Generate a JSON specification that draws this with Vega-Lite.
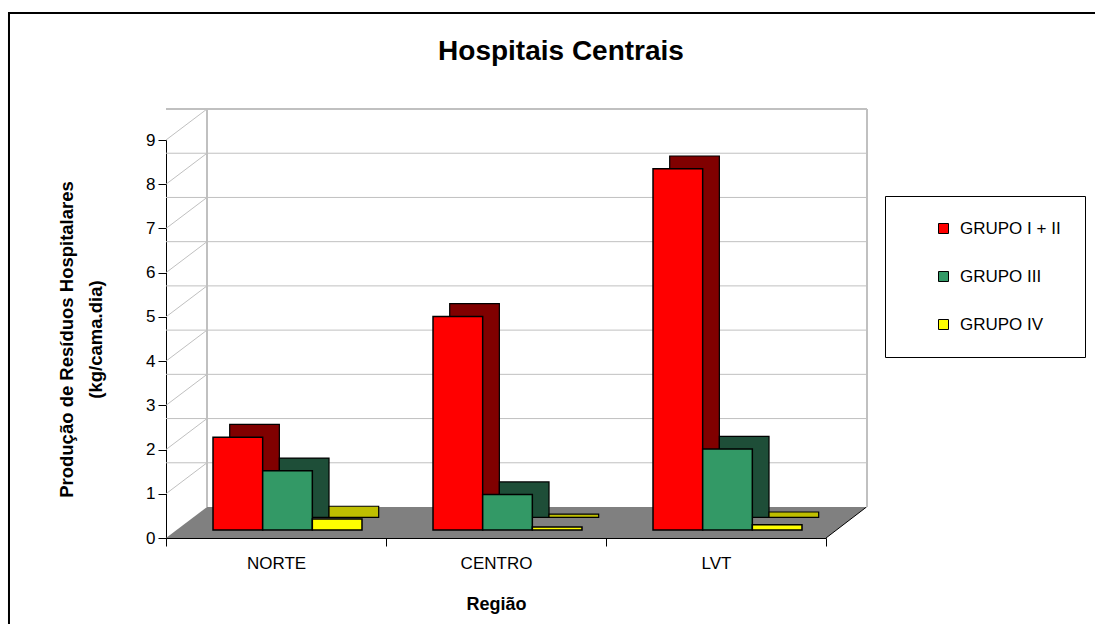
{
  "$schema": "https://vega.github.io/schema/vega-lite/v6.json",
  "width": 660,
  "height": 398,
  "autosize": {"type": "none"},
  "padding": {"left": 166, "top": 140, "right": 269, "bottom": 86},
  "background": "white",
  "config": {"font": "Liberation Sans", "view": {"stroke": null}},
  "title": {"text": "Hospitais Centrais", "fontSize": 28, "fontWeight": "bold", "color": "black", "anchor": "middle", "frame": "group", "dx": 65, "offset": -57},
  "datasets": {
    "residuos": [
      {"regiao": "NORTE", "grupo": "GRUPO I + II", "valor": 2.10},
      {"regiao": "NORTE", "grupo": "GRUPO III", "valor": 1.34},
      {"regiao": "NORTE", "grupo": "GRUPO IV", "valor": 0.25},
      {"regiao": "CENTRO", "grupo": "GRUPO I + II", "valor": 4.83},
      {"regiao": "CENTRO", "grupo": "GRUPO III", "valor": 0.80},
      {"regiao": "CENTRO", "grupo": "GRUPO IV", "valor": 0.07},
      {"regiao": "LVT", "grupo": "GRUPO I + II", "valor": 8.17},
      {"regiao": "LVT", "grupo": "GRUPO III", "valor": 1.83},
      {"regiao": "LVT", "grupo": "GRUPO IV", "valor": 0.12}
    ],
    "grade": [{"v": 1}, {"v": 2}, {"v": 3}, {"v": 4}, {"v": 5}, {"v": 6}, {"v": 7}, {"v": 8}, {"v": 9}]
  },
  "data": {"name": "residuos"},
  "resolve": {"scale": {"xOffset": "independent", "color": "independent"}},
  "layer": [
    {
      "data": {"values": [{}]},
      "mark": {"type": "point", "shape": "M-1.4758,1.6L-1.4758,-0.3848L1.84,-0.3848L1.84,1.6", "filled": false, "stroke": "black", "strokeWidth": 2, "opacity": 1, "size": 435600},
      "encoding": {
        "x": {"datum": "CENTRO", "type": "nominal"},
        "y": {"datum": 9, "type": "quantitative"}
      }
    },
    {
      "data": {"values": [{}]},
      "mark": {"type": "point", "shape": "M-1,0L1,0L1.1227,-0.0939L-0.8758,-0.0939Z", "filled": true, "fill": "#808080", "opacity": 1, "size": 435600, "strokeWidth": 0},
      "encoding": {
        "x": {"datum": "CENTRO", "type": "nominal"},
        "y": {"datum": 0, "type": "quantitative"}
      }
    },
    {
      "data": {"values": [{}]},
      "mark": {"type": "point", "shape": "M1,0L1.1227,-0.0939", "filled": false, "stroke": "black", "strokeWidth": 1, "opacity": 1, "size": 435600},
      "encoding": {
        "x": {"datum": "CENTRO", "type": "nominal"},
        "y": {"datum": 0, "type": "quantitative"}
      }
    },
    {
      "data": {"name": "grade"},
      "mark": {"type": "rule", "color": "#C0C0C0", "xOffset": 41, "x2Offset": 41, "yOffset": -31},
      "encoding": {
        "y": {"field": "v", "type": "quantitative"},
        "strokeWidth": {"condition": {"test": "datum.v == 9", "value": 2}, "value": 1}
      }
    },
    {
      "data": {"name": "grade"},
      "mark": {"type": "rule", "color": "#C0C0C0", "strokeWidth": 1, "x2Offset": 41, "y2Offset": -31},
      "encoding": {
        "x": {"datum": "NORTE", "type": "nominal", "bandPosition": 0},
        "x2": {"datum": "NORTE", "bandPosition": 0},
        "y": {"field": "v", "type": "quantitative"},
        "y2": {"field": "v"}
      }
    },
    {
      "data": {"values": [{}]},
      "mark": {"type": "rule", "color": "#C0C0C0", "strokeWidth": 2, "xOffset": 41, "yOffset": -31, "y2Offset": -31},
      "encoding": {
        "x": {"datum": "NORTE", "type": "nominal", "bandPosition": 0},
        "y": {"datum": 0, "type": "quantitative"},
        "y2": {"datum": 9}
      }
    },
    {
      "data": {"values": [{}]},
      "mark": {"type": "rule", "color": "#C0C0C0", "strokeWidth": 2, "xOffset": 41, "yOffset": -31, "y2Offset": -31},
      "encoding": {
        "x": {"datum": "LVT", "type": "nominal", "bandPosition": 1},
        "y": {"datum": 0, "type": "quantitative"},
        "y2": {"datum": 9}
      }
    },
    {
      "mark": {"type": "bar", "stroke": "black", "strokeWidth": 1.2, "yOffset": -20.7, "y2Offset": -20.7},
      "encoding": {
        "x": {"field": "regiao", "type": "nominal"},
        "xOffset": {"field": "grupo", "type": "nominal", "scale": {"domain": ["GRUPO I + II", "GRUPO III", "GRUPO IV"], "paddingInner": 0, "paddingOuter": 0.715, "align": 0.897}},
        "y": {"field": "valor", "type": "quantitative", "stack": null},
        "y2": {"datum": 0},
        "color": {"field": "grupo", "type": "nominal", "scale": {"domain": ["GRUPO I + II", "GRUPO III", "GRUPO IV"], "range": ["#800000", "#1E4E38", "#BFBF00"]}, "legend": null}
      }
    },
    {
      "mark": {"type": "bar", "stroke": "black", "strokeWidth": 1.5, "yOffset": -8, "y2Offset": -8},
      "encoding": {
        "x": {
          "field": "regiao", "type": "nominal",
          "scale": {"domain": ["NORTE", "CENTRO", "LVT"], "paddingInner": 0, "paddingOuter": 0},
          "title": "Região",
          "axis": {"labelAngle": 0, "labelAlign": "center", "bandPosition": 0.5, "labelFontSize": 17, "labelColor": "black", "labelPadding": 17, "tickBand": "extent", "tickSize": 8, "tickColor": "black", "domainColor": "black", "titleFontSize": 18, "titleFontWeight": "bold", "titleColor": "black", "titlePadding": 24, "grid": false}
        },
        "xOffset": {"field": "grupo", "type": "nominal", "scale": {"domain": ["GRUPO I + II", "GRUPO III", "GRUPO IV"], "paddingInner": 0, "paddingOuter": 0.715, "align": 0.662}},
        "y": {
          "field": "valor", "type": "quantitative", "stack": null,
          "scale": {"domain": [0, 9], "nice": false},
          "title": ["Produção de Resíduos Hospitalares", "(kg/cama.dia)"],
          "axis": {"values": [0, 1, 2, 3, 4, 5, 6, 7, 8, 9], "labelFontSize": 17, "labelColor": "black", "labelPadding": 3, "tickSize": 8, "tickColor": "black", "domainColor": "black", "titleFontSize": 18.5, "titleFontWeight": "bold", "titleColor": "black", "titlePadding": 40, "titleLineHeight": 29, "grid": false}
        },
        "y2": {"datum": 0},
        "color": {
          "field": "grupo", "type": "nominal",
          "scale": {"domain": ["GRUPO I + II", "GRUPO III", "GRUPO IV"], "range": ["#FF0000", "#339966", "#FFFF00"]},
          "legend": {"title": null, "orient": "none", "legendX": 719, "legendY": 56, "strokeColor": "black", "fillColor": "white", "padding": 24, "symbolType": "square", "symbolSize": 100, "symbolStrokeColor": "black", "symbolStrokeWidth": 1, "labelFontSize": 17, "labelColor": "black", "labelOffset": 8, "rowPadding": 30, "symbolOffset": 26}
        }
      }
    }
  ]
}
